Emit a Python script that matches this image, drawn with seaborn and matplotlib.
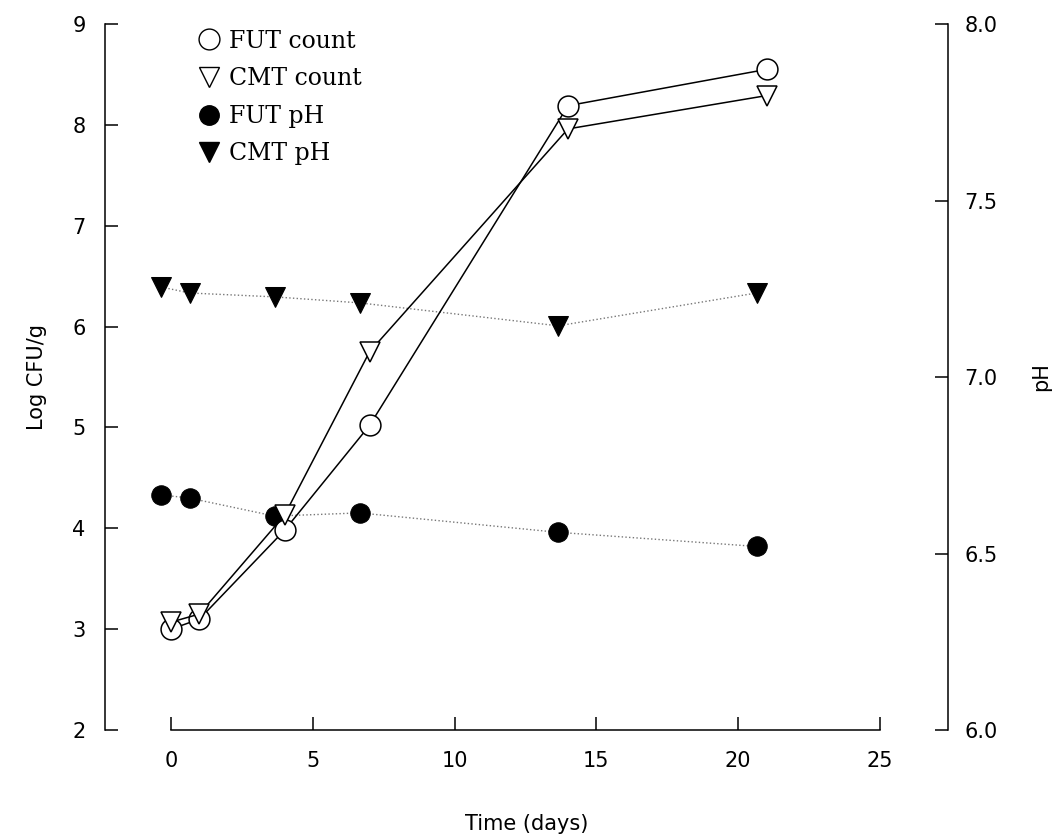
import matplotlib
matplotlib.use("Agg")
import matplotlib.pyplot as plt
from matplotlib.lines import Line2D
import seaborn as sns

days_count = [0, 1, 4, 7, 14, 21]
fut_count = [3.0, 3.1, 3.98, 5.02, 8.19, 8.55]
cmt_count = [3.07, 3.15, 4.13, 5.75, 7.96, 8.29]

days_ph = [-0.35, 0.65, 3.65, 6.65, 13.65, 20.65]
fut_ph = [6.666, 6.657, 6.606, 6.615, 6.56, 6.52]
cmt_ph = [7.255, 7.238, 7.227, 7.21, 7.145, 7.238]

x_ticks = [0, 5, 10, 15, 20, 25]
count_ticks = [2, 3, 4, 5, 6, 7, 8, 9]
ph_ticks = [6.0, 6.5, 7.0, 7.5, 8.0]

sns.set_style("ticks")
plt.rcParams['font.family'] = ['DejaVu Sans']
plt.rcParams['text.color'] = 'black'
plt.rcParams['axes.labelcolor'] = 'black'
plt.rcParams['xtick.color'] = 'black'
plt.rcParams['ytick.color'] = 'black'
plt.rcParams['axes.edgecolor'] = 'black'

fig = plt.figure(figsize=(10.63, 8.39), dpi=100)
ax = fig.add_axes([0.0988, 0.1299, 0.7930, 0.8415])
ax2 = ax.twinx()
# counts drawn on top of the pH markers
ax.set_zorder(ax2.get_zorder() + 1)
ax.patch.set_visible(False)

open_style = dict(color="black", lw=1.1, markerfacecolor="white",
                  markeredgecolor="black", markeredgewidth=1.1)
sns.lineplot(x=days_count, y=fut_count, ax=ax, marker="o", markersize=15, **open_style)
sns.lineplot(x=days_count, y=cmt_count, ax=ax, marker="v", markersize=14, **open_style)

dot_style = dict(color="#777777", lw=1.0, linestyle=":", markerfacecolor="black",
                 markeredgecolor="black")
sns.lineplot(x=days_ph, y=fut_ph, ax=ax2, marker="o", markersize=14, **dot_style)
sns.lineplot(x=days_ph, y=cmt_ph, ax=ax2, marker="v", markersize=14, **dot_style)

ax.set_xlim(-2.33, 27.4)
ax.set_ylim(2, 9)
ax2.set_ylim(6, 8)
ax.set_xticks(x_ticks)
ax.set_yticks(count_ticks)
ax2.set_yticks(ph_ticks)
ax2.set_yticklabels([f"{v:.1f}" for v in ph_ticks])

for a in (ax, ax2):
    a.spines["top"].set_visible(False)
    for s in a.spines.values():
        s.set_linewidth(1.1)
ax.spines["right"].set_visible(False)
ax2.spines["left"].set_visible(False)
ax2.spines["bottom"].set_visible(False)
ax.spines["bottom"].set_bounds(0, 25)

ax.tick_params(axis="x", direction="in", length=9.5, width=1.1, pad=15, labelsize=15)
ax.tick_params(axis="y", direction="in", length=9.5, width=1.1, pad=14, labelsize=15)
ax2.tick_params(axis="y", direction="in", length=9.5, width=1.1, pad=12, labelsize=15)

ax.set_xlabel("Time (days)", fontsize=15, labelpad=31)
ax.set_ylabel("Log CFU/g", fontsize=15, labelpad=18)
ax2.set_ylabel("pH", fontsize=15, labelpad=24)

handles = [
    Line2D([], [], ls="none", marker="o", markersize=15, mfc="white", mec="black"),
    Line2D([], [], ls="none", marker="v", markersize=14, mfc="white", mec="black"),
    Line2D([], [], ls="none", marker="o", markersize=14, mfc="black", mec="black"),
    Line2D([], [], ls="none", marker="v", markersize=14, mfc="black", mec="black"),
]
labels = ["FUT count", "CMT count", "FUT pH", "CMT pH"]
ax.legend(handles, labels, loc="upper left", bbox_to_anchor=(0.1747, 0.976),
          frameon=False, prop={"family": "DejaVu Serif", "size": 17},
          handletextpad=0.25, labelspacing=0.62, handlelength=1.2,
          borderaxespad=0, bbox_transform=fig.transFigure)

fig.savefig("out.png", dpi=100)
